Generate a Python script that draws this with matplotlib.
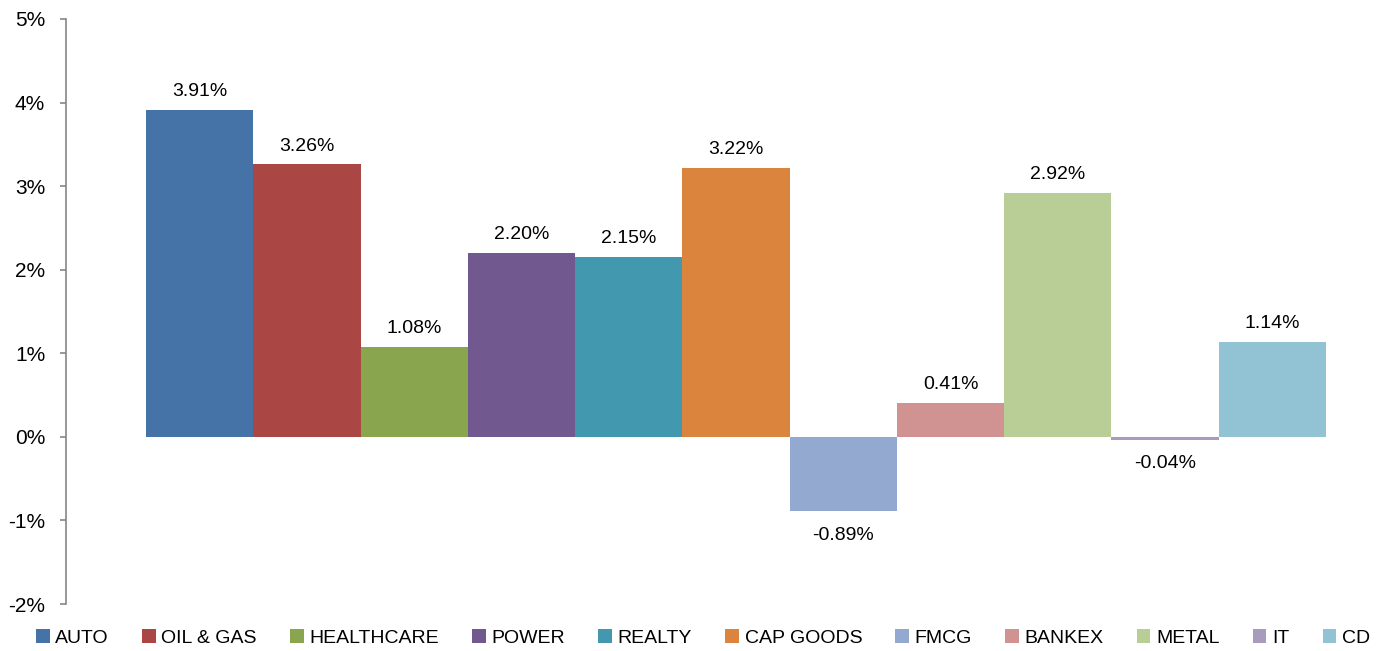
import numpy as np
import matplotlib.pyplot as plt
from matplotlib.patches import Patch

sectors = ['AUTO', 'OIL & GAS', 'HEALTHCARE', 'POWER', 'REALTY', 'CAP GOODS',
           'FMCG', 'BANKEX', 'METAL', 'IT', 'CD']
returns = [3.91, 3.26, 1.08, 2.20, 2.15, 3.22, -0.89, 0.41, 2.92, -0.04, 1.14]
colors = ['#4572A7', '#AA4643', '#89A54E', '#71588F', '#4198AF', '#DB843D',
          '#93A9CF', '#D19392', '#B9CD96', '#A99BBD', '#92C3D4']

plt.rcParams['font.family'] = ['Liberation Sans', 'DejaVu Sans']

fig = plt.figure(figsize=(13.84, 6.51), dpi=100)
ax = fig.add_axes([66 / 1384, (651 - 604) / 651, (1346 - 66) / 1384, (604 - 19) / 651])

x = np.arange(len(sectors))
bars = ax.bar(x, returns, width=1.0, color=colors, edgecolor='none')

for xi, v in zip(x, returns):
    if v >= 0:
        ax.annotate(f'{v:.2f}%', (xi, v), xytext=(0, 7), textcoords='offset points',
                    ha='center', va='bottom', fontsize=14)
    else:
        ax.annotate(f'{v:.2f}%', (xi, v), xytext=(0, -11), textcoords='offset points',
                    ha='center', va='top', fontsize=14)

ax.set_ylim(-2, 5)
ax.set_yticks(range(-2, 6))
ax.set_yticklabels([f'{t}%' for t in range(-2, 6)], fontsize=15)
ax.set_xlim(-0.5 - 80 / 107.3, 10.5 + 20 / 107.3)
ax.set_xticks([])

for s in ['top', 'right', 'bottom']:
    ax.spines[s].set_visible(False)
ax.spines['left'].set_color('#868686')
ax.spines['left'].set_linewidth(1.2)
ax.tick_params(axis='y', direction='out', length=4, width=1.2, color='#868686', pad=11)

handles = [Patch(facecolor=c, edgecolor='none') for c in colors]
fig.legend(handles, sectors, loc='center', bbox_to_anchor=(703 / 1384, 1 - 638 / 651),
           ncol=len(sectors), frameon=False, handlelength=0.7, handleheight=0.7,
           handletextpad=0.3, columnspacing=1.7, borderpad=0, prop={'size': 14})

fig.savefig('out.png', dpi=100)
